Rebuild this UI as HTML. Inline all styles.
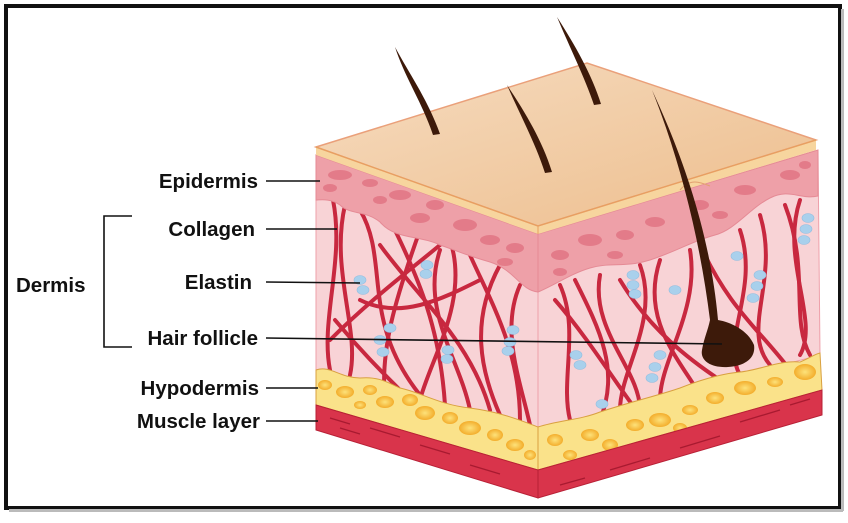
<!DOCTYPE html>
<html><head><style>
html,body{margin:0;padding:0;background:#fff;}
svg{display:block;}
text{font-family:"Liberation Sans",sans-serif;font-weight:bold;font-size:20.5px;fill:#111;}
</style></head><body>
<svg width="848" height="523" viewBox="0 0 848 523" xmlns="http://www.w3.org/2000/svg">
<defs>
<linearGradient id="top" x1="0" y1="0" x2="1" y2="1"><stop offset="0" stop-color="#f6dcc0"/><stop offset="1" stop-color="#edbd8c"/></linearGradient>
<radialGradient id="fat"><stop offset="0" stop-color="#fde27a"/><stop offset="1" stop-color="#f3ad2c"/></radialGradient>
</defs>
<rect x="0" y="0" width="848" height="523" fill="#fff"/>
<rect x="6" y="6" width="834" height="502" fill="none" stroke="#111" stroke-width="4"/>
<rect x="9" y="509" width="834" height="3" fill="#bbb"/>
<rect x="841" y="9" width="3" height="502" fill="#bbb"/>

<polygon points="316,155 538,234 538,430 316,370" fill="#f8d3d6" stroke="#eea0aa" stroke-width="1"/>
<polygon points="538,234 818,150 820,355 538,430" fill="#f8d3d6" stroke="#eea0aa" stroke-width="1"/>

<g fill="none" stroke="#c8283f" stroke-width="4" stroke-linecap="round">
<path d="M333,200 C345,260 320,320 330,370"/>
<path d="M345,205 C330,270 360,330 350,375"/>
<path d="M360,210 C390,260 360,320 420,395"/>
<path d="M390,220 C420,280 440,330 445,405"/>
<path d="M420,230 C395,300 380,350 385,400"/>
<path d="M450,240 C470,300 430,360 420,400"/>
<path d="M470,255 C490,300 520,350 520,420"/>
<path d="M500,265 C470,320 480,370 500,415"/>
<path d="M360,300 C400,320 440,300 480,280"/>
<path d="M330,340 C370,300 410,270 440,245"/>
<path d="M520,285 C500,330 520,380 530,425"/>
<path d="M380,245 C420,300 470,340 490,410"/>
<path d="M440,250 C420,310 460,360 470,410"/>
<path d="M335,320 C360,350 380,370 400,390"/>
<path d="M560,285 C580,330 560,380 570,420"/>
<path d="M575,280 C600,330 620,370 600,420"/>
<path d="M600,275 C590,330 640,370 640,410"/>
<path d="M640,265 C660,320 620,370 620,410"/>
<path d="M660,260 C640,320 680,360 700,395"/>
<path d="M690,250 C700,310 660,360 660,400"/>
<path d="M700,245 C730,310 760,330 790,370"/>
<path d="M740,230 C760,290 720,340 740,375"/>
<path d="M760,215 C780,280 740,330 770,365"/>
<path d="M785,205 C810,270 790,320 810,355"/>
<path d="M800,200 C780,260 820,320 800,355"/>
<path d="M620,280 C650,330 690,360 720,380"/>
<path d="M555,300 C590,340 620,390 640,415"/>
</g>

<path d="M316,155 L538,234 L538,292 C520,290 515,270 490,262 C465,255 455,250 440,245 C420,235 395,240 380,222 C365,210 350,215 340,205 C330,198 320,200 316,200 Z" fill="#eea0a8" stroke="#e58a95" stroke-width="1"/>
<path d="M538,234 L818,150 L818,196 C800,200 790,188 770,198 C750,208 735,230 715,235 C690,242 680,250 650,260 C625,268 610,262 590,268 C570,274 555,285 538,292 Z" fill="#eea0a8" stroke="#e58a95" stroke-width="1"/>
<g fill="#e27584" opacity="0.85">
<ellipse cx="340" cy="175" rx="12" ry="5"/><ellipse cx="330" cy="188" rx="7" ry="4"/><ellipse cx="370" cy="183" rx="8" ry="4"/>
<ellipse cx="400" cy="195" rx="11" ry="5"/><ellipse cx="435" cy="205" rx="9" ry="5"/><ellipse cx="420" cy="218" rx="10" ry="5"/>
<ellipse cx="465" cy="225" rx="12" ry="6"/><ellipse cx="490" cy="240" rx="10" ry="5"/><ellipse cx="515" cy="248" rx="9" ry="5"/>
<ellipse cx="505" cy="262" rx="8" ry="4"/><ellipse cx="380" cy="200" rx="7" ry="4"/>
<ellipse cx="560" cy="255" rx="9" ry="5"/><ellipse cx="590" cy="240" rx="12" ry="6"/><ellipse cx="625" cy="235" rx="9" ry="5"/>
<ellipse cx="615" cy="255" rx="8" ry="4"/><ellipse cx="655" cy="222" rx="10" ry="5"/><ellipse cx="700" cy="205" rx="9" ry="5"/>
<ellipse cx="745" cy="190" rx="11" ry="5"/><ellipse cx="720" cy="215" rx="8" ry="4"/><ellipse cx="790" cy="175" rx="10" ry="5"/>
<ellipse cx="805" cy="165" rx="6" ry="4"/><ellipse cx="560" cy="272" rx="7" ry="4"/>
</g>

<polygon points="316,147 587,63 816,140 816,150 538,234 316,155" fill="#f7d59e"/>
<polygon points="316,147 587,63 816,140 538,226" fill="url(#top)" stroke="#eaa07a" stroke-width="1.5"/>
<path d="M316,147 L538,226 L816,140" fill="none" stroke="#e8a060" stroke-width="1.2"/>
<path d="M538,226 L538,234" stroke="#e8a060" stroke-width="1"/>
<path d="M680,190 C690,178 700,182 710,186" fill="none" stroke="#e2a070" stroke-width="1"/>

<path d="M316,370 C330,365 340,378 360,378 C380,376 390,384 400,388 C420,392 440,405 470,408 C500,412 520,420 538,427 L538,470 L316,405 Z" fill="#fae28a" stroke="#d9a040" stroke-width="1"/>
<path d="M538,427 C560,420 580,420 600,412 C630,402 660,395 680,388 C700,380 720,374 740,372 C760,370 780,360 800,362 C810,358 815,354 820,353 L822,390 L538,470 Z" fill="#fae28a" stroke="#d9a040" stroke-width="1"/>
<g fill="url(#fat)">
<ellipse cx="325" cy="385" rx="7" ry="5"/><ellipse cx="345" cy="392" rx="9" ry="6"/><ellipse cx="370" cy="390" rx="7" ry="5"/>
<ellipse cx="385" cy="402" rx="9" ry="6"/><ellipse cx="410" cy="400" rx="8" ry="6"/><ellipse cx="425" cy="413" rx="10" ry="7"/>
<ellipse cx="450" cy="418" rx="8" ry="6"/><ellipse cx="470" cy="428" rx="11" ry="7"/><ellipse cx="495" cy="435" rx="8" ry="6"/>
<ellipse cx="515" cy="445" rx="9" ry="6"/><ellipse cx="530" cy="455" rx="6" ry="5"/><ellipse cx="360" cy="405" rx="6" ry="4"/>
<ellipse cx="555" cy="440" rx="8" ry="6"/><ellipse cx="570" cy="455" rx="7" ry="5"/><ellipse cx="590" cy="435" rx="9" ry="6"/>
<ellipse cx="610" cy="445" rx="8" ry="6"/><ellipse cx="635" cy="425" rx="9" ry="6"/><ellipse cx="660" cy="420" rx="11" ry="7"/>
<ellipse cx="690" cy="410" rx="8" ry="5"/><ellipse cx="715" cy="398" rx="9" ry="6"/><ellipse cx="745" cy="388" rx="11" ry="7"/>
<ellipse cx="775" cy="382" rx="8" ry="5"/><ellipse cx="805" cy="372" rx="11" ry="8"/><ellipse cx="680" cy="428" rx="7" ry="5"/>
</g>

<polygon points="316,405 538,470 538,498 316,430" fill="#d9344b" stroke="#b82036" stroke-width="1"/>
<polygon points="538,470 822,390 822,415 538,498" fill="#d9344b" stroke="#b82036" stroke-width="1"/>
<g stroke="#a81a30" stroke-width="1.3">
<line x1="330" y1="418" x2="350" y2="424"/><line x1="370" y1="428" x2="400" y2="437"/><line x1="420" y1="445" x2="450" y2="454"/><line x1="470" y1="465" x2="500" y2="474"/><line x1="340" y1="428" x2="360" y2="434"/>
<line x1="560" y1="485" x2="585" y2="478"/><line x1="610" y1="470" x2="650" y2="458"/><line x1="680" y1="448" x2="720" y2="436"/><line x1="740" y1="422" x2="780" y2="410"/><line x1="790" y1="405" x2="810" y2="399"/>
</g>

<g fill="#a9d0ec" stroke="#8fbde0" stroke-width="0.6">
<ellipse cx="360" cy="280" rx="6" ry="4.5"/><ellipse cx="363" cy="290" rx="6" ry="4.5"/>
<ellipse cx="427" cy="265" rx="6" ry="4.5"/><ellipse cx="426" cy="274" rx="6" ry="4.5"/>
<ellipse cx="390" cy="328" rx="6" ry="4.5"/><ellipse cx="380" cy="340" rx="6" ry="4.5"/><ellipse cx="383" cy="352" rx="6" ry="4.5"/>
<ellipse cx="448" cy="350" rx="6" ry="4.5"/><ellipse cx="447" cy="359" rx="6" ry="4.5"/>
<ellipse cx="513" cy="330" rx="6" ry="4.5"/><ellipse cx="510" cy="342" rx="6" ry="4.5"/><ellipse cx="508" cy="351" rx="6" ry="4.5"/>
<ellipse cx="576" cy="355" rx="6" ry="4.5"/><ellipse cx="580" cy="365" rx="6" ry="4.5"/><ellipse cx="602" cy="404" rx="6" ry="4.5"/>
<ellipse cx="633" cy="275" rx="6" ry="4.5"/><ellipse cx="633" cy="285" rx="6" ry="4.5"/><ellipse cx="635" cy="294" rx="6" ry="4.5"/>
<ellipse cx="675" cy="290" rx="6" ry="4.5"/>
<ellipse cx="660" cy="355" rx="6" ry="4.5"/><ellipse cx="655" cy="367" rx="6" ry="4.5"/><ellipse cx="652" cy="378" rx="6" ry="4.5"/>
<ellipse cx="737" cy="256" rx="6" ry="4.5"/><ellipse cx="760" cy="275" rx="6" ry="4.5"/><ellipse cx="757" cy="286" rx="6" ry="4.5"/><ellipse cx="753" cy="298" rx="6" ry="4.5"/>
<ellipse cx="808" cy="218" rx="6" ry="4.5"/><ellipse cx="806" cy="229" rx="6" ry="4.5"/><ellipse cx="804" cy="240" rx="6" ry="4.5"/>
</g>

<g fill="#3d1a0a">
<path d="M395,47 C410,75 428,100 440,134 L433,135 C422,102 405,78 395,47 Z"/>
<path d="M507,85 C525,112 542,140 552,172 L545,173 C535,142 520,115 507,85 Z"/>
<path d="M557,17 C575,45 592,75 601,104 L594,105 C585,78 570,48 557,17 Z"/>
<path d="M652,90 C680,150 710,230 718,320 C730,322 748,330 754,345 C756,358 745,366 728,367 C710,368 700,360 702,350 C704,338 708,330 710,320 C700,240 680,160 652,90 Z"/>
</g>

<g stroke="#111" stroke-width="1.6" fill="none">
<line x1="266" y1="181" x2="320" y2="181"/>
<line x1="266" y1="229" x2="337" y2="229"/>
<line x1="266" y1="282" x2="360" y2="283"/>
<line x1="266" y1="338" x2="722" y2="344"/>
<line x1="266" y1="388" x2="318" y2="388"/>
<line x1="266" y1="421" x2="318" y2="421"/>
<path d="M132,216 L104,216 L104,347 L132,347"/>
</g>
<text x="258" y="188" text-anchor="end">Epidermis</text>
<text x="255" y="236" text-anchor="end">Collagen</text>
<text x="252" y="289" text-anchor="end">Elastin</text>
<text x="258" y="345" text-anchor="end">Hair follicle</text>
<text x="259" y="395" text-anchor="end">Hypodermis</text>
<text x="260" y="428" text-anchor="end">Muscle layer</text>
<text x="16" y="292">Dermis</text>
</svg>
</body></html>
